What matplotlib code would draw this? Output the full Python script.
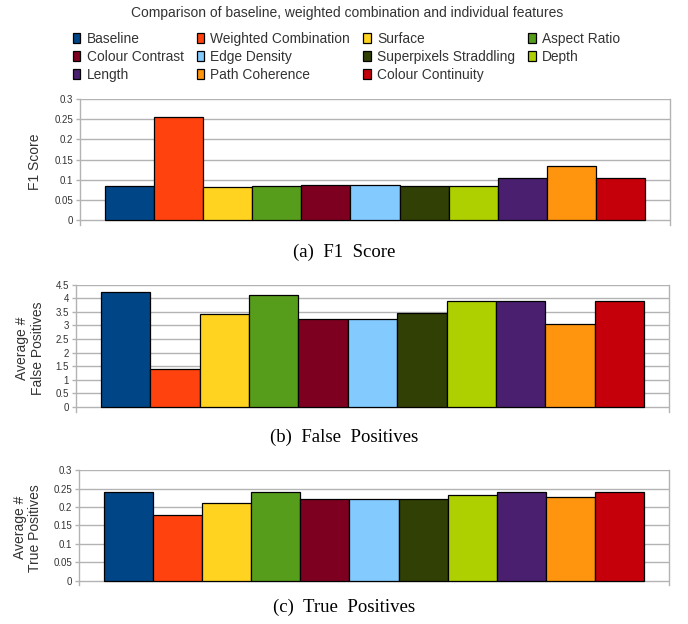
import numpy as np
import matplotlib.pyplot as plt
from matplotlib.patches import Patch

plt.rcParams['font.family'] = ['Liberation Sans', 'DejaVu Sans']

features = ['Baseline', 'Weighted Combination', 'Surface', 'Aspect Ratio',
            'Colour Contrast', 'Edge Density', 'Superpixels Straddling', 'Depth',
            'Length', 'Path Coherence', 'Colour Continuity']
colors = ['#004586', '#ff420e', '#ffd320', '#579d1c', '#7e0021', '#83caff',
          '#314004', '#aecf00', '#4b1f6f', '#ff950e', '#c5000b']

f1_score = [0.086, 0.256, 0.082, 0.084, 0.087, 0.087, 0.086, 0.084, 0.104, 0.134, 0.104]
false_pos = [4.23, 1.41, 3.43, 4.12, 3.25, 3.25, 3.46, 3.90, 3.90, 3.05, 3.90]
true_pos = [0.241, 0.179, 0.211, 0.240, 0.223, 0.222, 0.223, 0.232, 0.241, 0.228, 0.241]

grid_col = '#b3b3b3'

fig = plt.figure(figsize=(6.88, 6.24), dpi=100)

def panel(rect, vals, ymax, step, ybot, ylabel, ticklabels, caption, cap_y, lpad):
    ax = fig.add_axes(rect)
    x = np.arange(len(vals))
    ax.bar(x, vals, width=1.0, color=colors, edgecolor='black', linewidth=0.9, zorder=3)
    ax.set_xlim(-1.0, 11.0)
    ax.set_ylim(ybot, ymax)
    ticks = np.arange(0, ymax + step / 2, step)
    ax.set_yticks(ticks)
    ax.set_yticklabels(ticklabels)
    ax.set_xticks([])
    for t in ticks:
        ax.axhline(t, color=grid_col, linewidth=1.0, zorder=1)
    for s in ['top', 'bottom']:
        ax.spines[s].set_visible(False)
    for s in ['left', 'right']:
        ax.spines[s].set_color(grid_col)
        ax.spines[s].set_linewidth(1.0)
    ax.tick_params(axis='y', length=3, width=1.0, color=grid_col, labelsize=7,
                   labelcolor='#333333', pad=2)
    ax.set_ylabel(ylabel, fontsize=10, color='#333333', linespacing=1.1, labelpad=lpad)
    fig.text(0.5, cap_y, caption, ha='center', va='center',
             family=['Liberation Serif', 'DejaVu Serif'], fontsize=13.5)
    return ax

panel([80/688, 1-225/624, 590/688, 126/624], f1_score, 0.3, 0.05, -0.0116,
      'F1 Score', ['0', '0.05', '0.1', '0.15', '0.2', '0.25', '0.3'],
      '(a)  F1  Score', 1-252/624, 9)
panel([76/688, 1-411.7/624, 593/688, 127/624], false_pos, 4.5, 0.5, -0.173,
      'Average #\nFalse Positives',
      ['0', '0.5', '1', '1.5', '2', '2.5', '3', '3.5', '4', '4.5'],
      '(b)  False  Positives', 1-437/624, 8)
panel([79.3/688, 1-585/624, 589.4/688, 114.7/624], true_pos, 0.3, 0.05, -0.0117,
      'Average #\nTrue Positives', ['0', '0.05', '0.1', '0.15', '0.2', '0.25', '0.3'],
      '(c)  True  Positives', 1-607/624, 8)

fig.text(0.504, 1-13/624, 'Comparison of baseline, weighted combination and individual features',
         ha='center', va='center', fontsize=10, color='#333333')

# legend filled column-wise, so reorder to read row-wise
order = [0, 4, 8, 1, 5, 9, 2, 6, 10, 3, 7]
handles = [Patch(facecolor=colors[i], edgecolor='black', linewidth=0.9) for i in order]
labels = [features[i] for i in order]
fig.legend(handles, labels, ncol=4, loc='upper left', bbox_to_anchor=(66/688, 1-25/624),
           frameon=False, fontsize=9.9, borderpad=0, handlelength=0.55, handleheight=0.75,
           handletextpad=0.45, columnspacing=0.95, labelspacing=0.3, labelcolor='#333333')

fig.savefig('out.png', dpi=100)
